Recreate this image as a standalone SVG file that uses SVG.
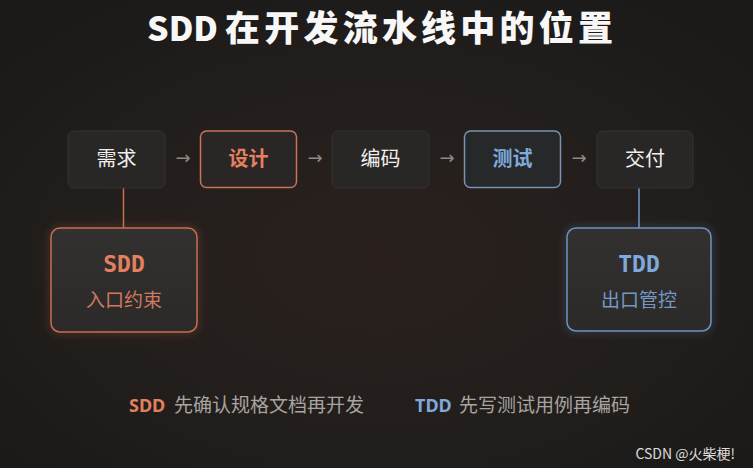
<svg xmlns="http://www.w3.org/2000/svg" width="753" height="468" viewBox="0 0 753 468">
<defs>
<radialGradient id="bg" cx="0.5" cy="0.55" r="0.65">
<stop offset="0" stop-color="#2a211e"/>
<stop offset="0.6" stop-color="#221e1c"/>
<stop offset="1" stop-color="#1b1a19"/>
</radialGradient>
<linearGradient id="cardFill" x1="0" y1="0" x2="0" y2="1">
<stop offset="0" stop-color="#33312f"/>
<stop offset="1" stop-color="#2c2a29"/>
</linearGradient>
<filter id="glowO" x="-20%" y="-20%" width="140%" height="140%">
<feGaussianBlur stdDeviation="4"/>
</filter>
<style>
.cjk{font-family:"Noto Sans CJK SC","Noto Sans",sans-serif;}
.title{font-weight:900;fill:#f7f7f7;}
.box{fill:#292726;stroke:#363331;stroke-width:1;}
.node{font-size:20px;fill:#f0efee;text-anchor:middle;}
.arrow{font-family:"DejaVu Sans",sans-serif;font-size:18px;fill:#8f8a87;text-anchor:middle;}
.orange{fill:#e3805f;}
.blue{fill:#7fa8dc;}
.mono{font-family:"DejaVu Sans Mono","Liberation Mono",monospace;font-weight:bold;font-size:23px;text-anchor:middle;}
.sub{font-size:19px;text-anchor:middle;}
.legend{font-size:19px;fill:#a8a4a1;}
.legkey{font-family:"Noto Sans","DejaVu Sans",sans-serif;font-weight:bold;font-size:18px;}
</style>
</defs>
<rect x="0" y="0" width="753" height="468" fill="url(#bg)"/>

<g id="title">
<text x="147" y="41" class="cjk title" font-size="34" textLength="71" lengthAdjust="spacingAndGlyphs">SDD</text>
<text x="225" y="41" class="cjk title" font-size="35" textLength="388" lengthAdjust="spacing">在开发流水线中的位置</text>
</g>

<g id="connectors">
<line x1="123.5" y1="188" x2="123.5" y2="228" stroke="#c8704f" stroke-width="1.5"/>
<line x1="639" y1="188" x2="639" y2="228" stroke="#6f98c8" stroke-width="1.5"/>
<text x="183" y="164" class="arrow">→</text>
<text x="315" y="164" class="arrow">→</text>
<text x="447" y="164" class="arrow">→</text>
<text x="579" y="164" class="arrow">→</text>
</g>

<g id="n-req">
<rect x="68" y="131" width="97" height="57" rx="6" class="box"/>
<text x="116.5" y="165.5" class="cjk node">需求</text>
</g>
<g id="n-design">
<rect x="200.5" y="131" width="96" height="56.5" rx="6" fill="#2a2625" stroke="#c8735a" stroke-width="1.5"/>
<text x="248.5" y="165.5" class="cjk node orange" font-weight="bold">设计</text>
</g>
<g id="n-code">
<rect x="332" y="131" width="97" height="57" rx="6" class="box"/>
<text x="380.5" y="165.5" class="cjk node">编码</text>
</g>
<g id="n-test">
<rect x="464.5" y="131" width="96" height="56.5" rx="6" fill="#272829" stroke="#7a93b0" stroke-width="1.5"/>
<text x="512.5" y="165.5" class="cjk node blue" font-weight="bold">测试</text>
</g>
<g id="n-deliver">
<rect x="597" y="131" width="96" height="57" rx="6" class="box"/>
<text x="645" y="165.5" class="cjk node">交付</text>
</g>

<g id="n-sdd">
<rect x="51" y="228" width="146" height="104" rx="9" fill="none" stroke="#d06a48" stroke-width="3" opacity="0.45" filter="url(#glowO)"/>
<rect x="51" y="228" width="146" height="104" rx="9" fill="url(#cardFill)" stroke="#c86e50" stroke-width="1.5"/>
<text x="124" y="272" class="mono orange">SDD</text>
<text x="124" y="307" class="cjk sub" fill="#cf7a5e">入口约束</text>
</g>
<g id="n-tdd">
<rect x="567" y="228" width="144" height="103" rx="9" fill="none" stroke="#6f98cc" stroke-width="3" opacity="0.4" filter="url(#glowO)"/>
<rect x="567" y="228" width="144" height="103" rx="9" fill="url(#cardFill)" stroke="#6d93c2" stroke-width="1.5"/>
<text x="639" y="272" class="mono blue">TDD</text>
<text x="639" y="307" class="cjk sub" fill="#7398c6">出口管控</text>
</g>

<g id="legend">
<text x="129" y="412" class="legkey orange">SDD</text>
<text x="174" y="412" class="cjk legend">先确认规格文档再开发</text>
<text x="415" y="412" class="legkey blue">TDD</text>
<text x="459" y="412" class="cjk legend">先写测试用例再编码</text>
</g>

<text x="735" y="459" class="cjk" font-size="14" fill="#dcdcdc" text-anchor="end">CSDN @火柴梗!</text>
</svg>
